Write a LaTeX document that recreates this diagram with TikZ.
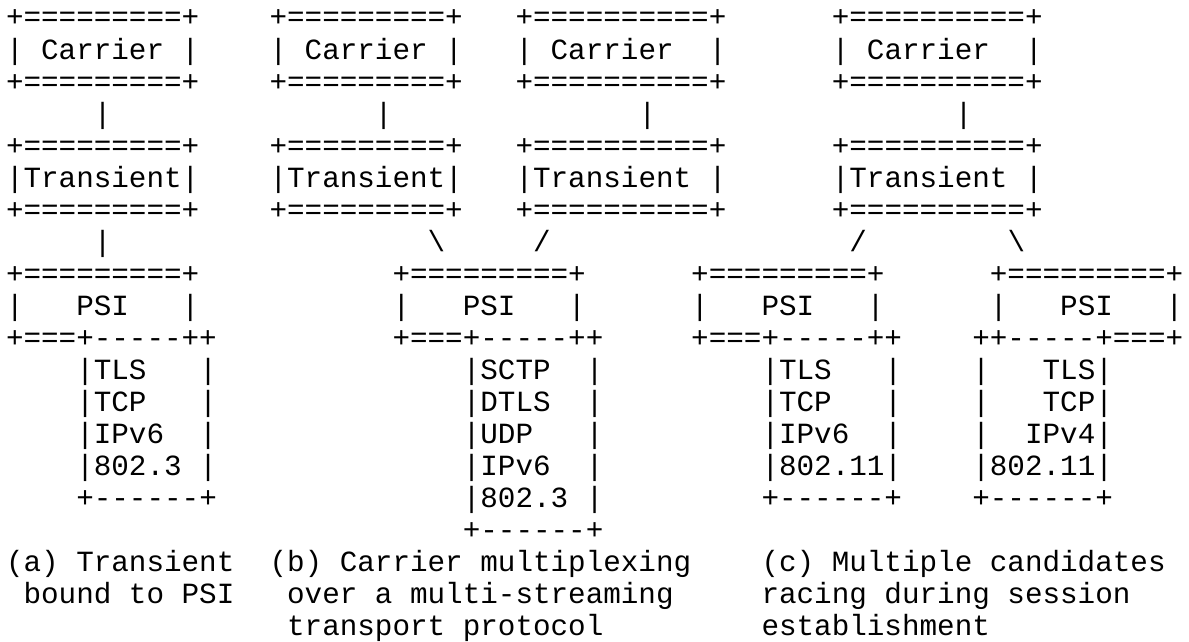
\documentclass[tikz,border=0pt]{standalone}
\usepackage{fontspec}
\setmonofont{Liberation Mono}
\frenchspacing
\tikzset{
  txt/.style={font=\ttfamily\fontsize{29.28}{32}\selectfont, anchor=base west, inner sep=0pt, outer sep=0pt, text=black}
}
% place text #4 named #1 at column #2, row #3
\newcommand\asc[4]{\node[txt] (#1) at ({6+17.57*#2},{27+32.05*(#3-1)}) {#4};}
\begin{document}
\begin{tikzpicture}[x=1pt,y=-1pt]
\fill[white] (0,0) rectangle (1189,642);
\useasboundingbox (0,0) rectangle (1189,642);
% Carrier boxes
\asc{ca1t}{0}{1}{+=========+}
\asc{ca2t}{15}{1}{+=========+}
\asc{ca3t}{29}{1}{+==========+}
\asc{ca4t}{47}{1}{+==========+}
\asc{ca1m}{0}{2}{|~Carrier~|}
\asc{ca2m}{15}{2}{|~Carrier~|}
\asc{ca3m}{29}{2}{|~Carrier~~|}
\asc{ca4m}{47}{2}{|~Carrier~~|}
\asc{ca1b}{0}{3}{+=========+}
\asc{ca2b}{15}{3}{+=========+}
\asc{ca3b}{29}{3}{+==========+}
\asc{ca4b}{47}{3}{+==========+}
% links carrier - transient
\asc{lk1}{5}{4}{|}
\asc{lk2}{21}{4}{|}
\asc{lk3}{36}{4}{|}
\asc{lk4}{54}{4}{|}
% Transient boxes
\asc{tr1t}{0}{5}{+=========+}
\asc{tr2t}{15}{5}{+=========+}
\asc{tr3t}{29}{5}{+==========+}
\asc{tr4t}{47}{5}{+==========+}
\asc{tr1m}{0}{6}{|Transient|}
\asc{tr2m}{15}{6}{|Transient|}
\asc{tr3m}{29}{6}{|Transient~|}
\asc{tr4m}{47}{6}{|Transient~|}
\asc{tr1b}{0}{7}{+=========+}
\asc{tr2b}{15}{7}{+=========+}
\asc{tr3b}{29}{7}{+==========+}
\asc{tr4b}{47}{7}{+==========+}
% links transient - PSI
\asc{lp1}{5}{8}{|}
\asc{lp2}{24}{8}{\textbackslash}
\asc{lp3}{30}{8}{/}
\asc{lp4}{48}{8}{/}
\asc{lp5}{57}{8}{\textbackslash}
% PSI boxes
\asc{ps1t}{0}{9}{+=========+}
\asc{ps2t}{22}{9}{+=========+}
\asc{ps3t}{39}{9}{+=========+}
\asc{ps4t}{56}{9}{+=========+}
\asc{ps1m}{0}{10}{|~~~PSI~~~|}
\asc{ps2m}{22}{10}{|~~~PSI~~~|}
\asc{ps3m}{39}{10}{|~~~PSI~~~|}
\asc{ps4m}{56}{10}{|~~~PSI~~~|}
\asc{ps1b}{0}{11}{+===+-{}-{}-{}-{}-++}
\asc{ps2b}{22}{11}{+===+-{}-{}-{}-{}-++}
\asc{ps3b}{39}{11}{+===+-{}-{}-{}-{}-++}
\asc{ps4b}{55}{11}{++-{}-{}-{}-{}-+===+}
% protocol stacks
\asc{sa1}{4}{12}{|TLS~~~|}
\asc{sa2}{4}{13}{|TCP~~~|}
\asc{sa3}{4}{14}{|IPv6~~|}
\asc{sa4}{4}{15}{|802.3~|}
\asc{sa5}{4}{16}{+-{}-{}-{}-{}-{}-+}
\asc{sb1}{26}{12}{|SCTP~~|}
\asc{sb2}{26}{13}{|DTLS~~|}
\asc{sb3}{26}{14}{|UDP~~~|}
\asc{sb4}{26}{15}{|IPv6~~|}
\asc{sb5}{26}{16}{|802.3~|}
\asc{sb6}{26}{17}{+-{}-{}-{}-{}-{}-+}
\asc{sc1}{43}{12}{|TLS~~~|}
\asc{sc2}{43}{13}{|TCP~~~|}
\asc{sc3}{43}{14}{|IPv6~~|}
\asc{sc4}{43}{15}{|802.11|}
\asc{sc5}{43}{16}{+-{}-{}-{}-{}-{}-+}
\asc{sd1}{55}{12}{|~~~TLS|}
\asc{sd2}{55}{13}{|~~~TCP|}
\asc{sd3}{55}{14}{|~~IPv4|}
\asc{sd4}{55}{15}{|802.11|}
\asc{sd5}{55}{16}{+-{}-{}-{}-{}-{}-+}
% captions
\asc{capa1}{0}{18}{(a)~Transient}
\asc{capa2}{1}{19}{bound~to~PSI}
\asc{capb1}{15}{18}{(b)~Carrier~multiplexing}
\asc{capb2}{16}{19}{over~a~multi-streaming}
\asc{capb3}{16}{20}{transport~protocol}
\asc{capc1}{43}{18}{(c)~Multiple~candidates}
\asc{capc2}{43}{19}{racing~during~session}
\asc{capc3}{43}{20}{establishment}
\end{tikzpicture}
\end{document}
